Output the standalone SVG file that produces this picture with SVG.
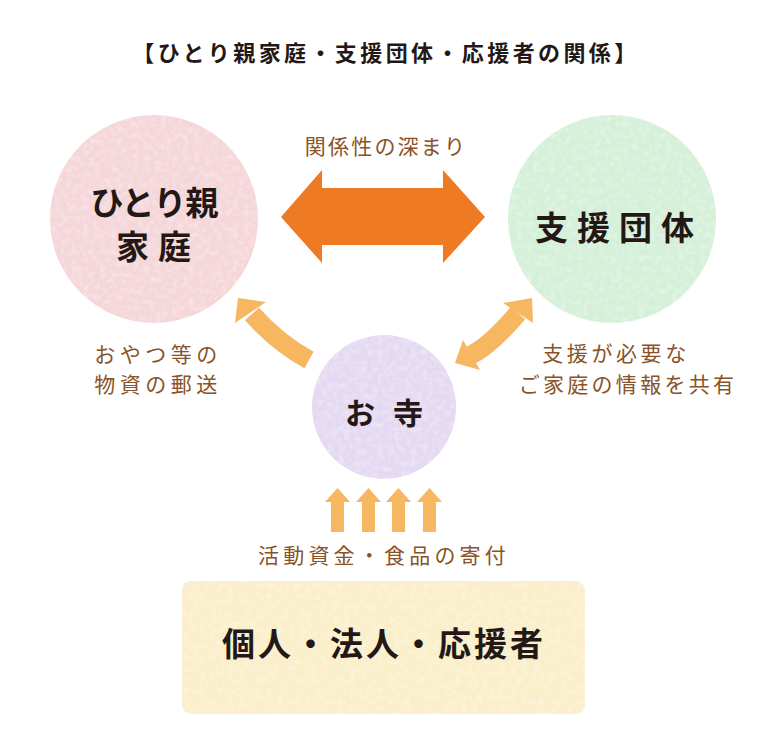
<svg xmlns="http://www.w3.org/2000/svg" width="774" height="750" viewBox="0 0 774 750">
  <defs>
    <filter id="paper" x="0" y="0" width="100%" height="100%">
      <feTurbulence type="fractalNoise" baseFrequency="0.18" numOctaves="3" seed="7" result="n"/>
      <feColorMatrix in="n" type="matrix" values="0 0 0 0 1  0 0 0 0 1  0 0 0 0 1  0 0 0 -0.7 0.42" result="w"/>
      <feComposite in="w" in2="SourceAlpha" operator="in" result="wi"/>
      <feMerge><feMergeNode in="SourceGraphic"/><feMergeNode in="wi"/></feMerge>
    </filter>
  </defs>
  <style>
    text { font-family: "Noto Sans CJK JP", "Noto Sans", sans-serif; }
    .title { font-size: 22px; fill: #231815; font-weight: 700; }
    .node { font-size: 33px; fill: #231815; font-weight: 700; text-anchor: middle; }
    .lbl { font-size: 21px; fill: #8a5226; text-anchor: middle; }
    .thin { fill: #f7b660; }
    .shaft { fill: none; stroke: #f7b660; stroke-width: 19; stroke-linecap: butt; }
  </style>
  <rect width="774" height="750" fill="#ffffff"/>

  <text class="title" x="386" y="61" text-anchor="middle" letter-spacing="3.4">【ひとり親家庭・支援団体・応援者の関係】</text>

  <g id="node-hitorioya">
    <circle cx="154" cy="219" r="104" fill="#f5d6d9" filter="url(#paper)"/>
    <text class="node" x="154" y="215" letter-spacing="-1">ひとり親</text>
    <text class="node" x="158" y="259" letter-spacing="9">家庭</text>
  </g>

  <g id="node-shiendantai">
    <circle cx="612" cy="219" r="104" fill="#d4f0d8" filter="url(#paper)"/>
    <text class="node" x="619" y="240" letter-spacing="9">支援団体</text>
  </g>

  <g id="node-otera">
    <circle cx="384" cy="407" r="72" fill="#e4d9f2" filter="url(#paper)"/>
    <text class="node" x="393" y="424" style="font-size:30px" letter-spacing="18">お寺</text>
  </g>

  <g id="node-supporters">
    <rect x="182" y="581" width="403" height="133" rx="9" fill="#faefc9" filter="url(#paper)"/>
    <text class="node" x="384" y="656" letter-spacing="3">個人・法人・応援者</text>
  </g>

  <g id="connectors">
    <polygon fill="#ee7a24" points="281,217 322,170 322,188 443,188 443,170 485,217 443,263 443,245 322,245 322,263"/>
    <path class="shaft" d="M309,360 Q278,343 252,314"/>
    <polygon class="thin" points="238,298 266,302 235,323"/>
    <path class="shaft" d="M471,355 Q490,346 518,313"/>
    <polygon class="thin" points="532,298 503,303 533,323"/>
    <polygon class="thin" points="455,363 463,340 480,370"/>
    <g class="thin">
      <polygon points="337.5,488 350,502 344,502 344,532 331,532 331,502 325,502"/>
      <polygon points="368.5,488 381,502 375,502 375,532 362,532 362,502 356,502"/>
      <polygon points="398.5,488 411,502 405,502 405,532 392,532 392,502 386,502"/>
      <polygon points="429.5,488 442,502 436,502 436,532 423,532 423,502 417,502"/>
    </g>
  </g>

  <g id="labels">
    <text class="lbl" x="386" y="154" letter-spacing="2.2">関係性の深まり</text>
    <text class="lbl" x="158" y="362" letter-spacing="4.5">おやつ等の</text>
    <text class="lbl" x="158" y="392" letter-spacing="4.5">物資の郵送</text>
    <text class="lbl" x="616" y="361" letter-spacing="3.6">支援が必要な</text>
    <text class="lbl" x="628" y="392" letter-spacing="3.3">ご家庭の情報を共有</text>
    <text class="lbl" x="384" y="563" letter-spacing="4.2">活動資金・食品の寄付</text>
  </g>
</svg>
